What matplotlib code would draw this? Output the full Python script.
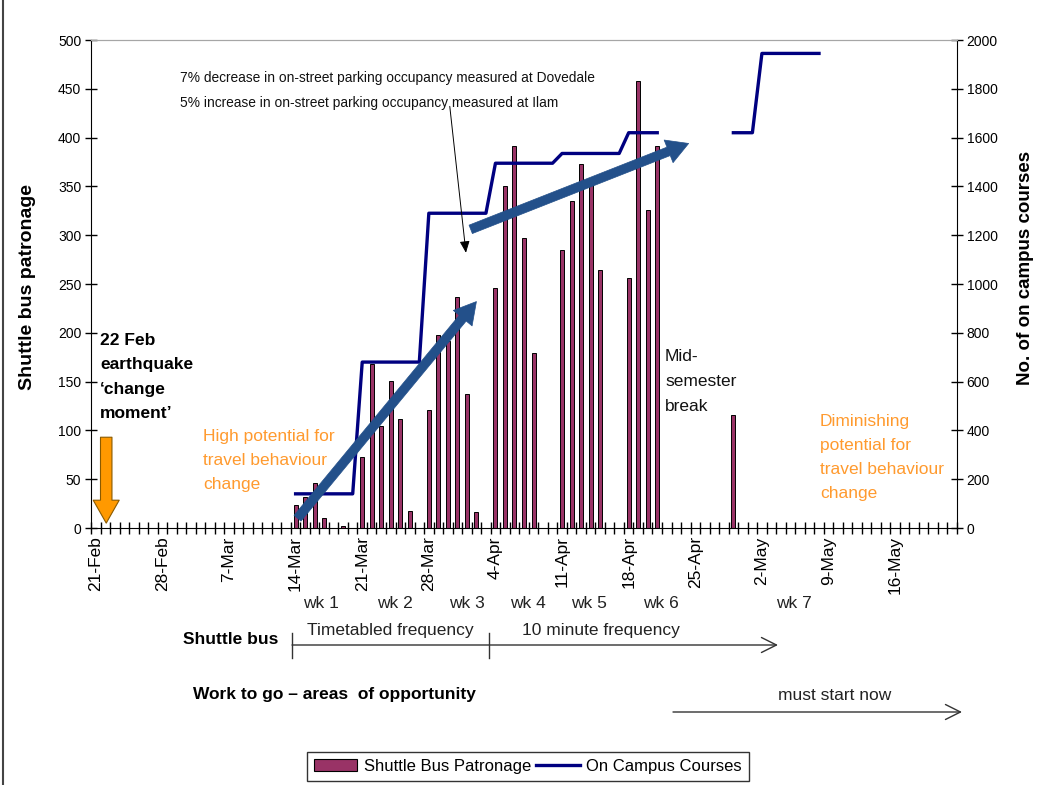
import matplotlib
matplotlib.use('Agg')
import matplotlib.pyplot as plt
import numpy as np
import pandas as pd
from matplotlib.patches import Patch
from matplotlib.lines import Line2D

plt.rcParams['font.family'] = ['Liberation Sans', 'DejaVu Sans']

# ---------------- data ----------------
# daily category axis (21-Feb-2011 .. 22-May-2011)
day_range = pd.date_range('2011-02-21', '2011-05-22', freq='D')
categories = [f"{d.day}-{d.strftime('%b')}" for d in day_range]
tick_labels = ['21-Feb', '28-Feb', '7-Mar', '14-Mar', '21-Mar', '28-Mar', '4-Apr',
               '11-Apr', '18-Apr', '25-Apr', '2-May', '9-May', '16-May']

bus_dates = ['14-Mar', '15-Mar', '16-Mar', '17-Mar', '19-Mar',
             '21-Mar', '22-Mar', '23-Mar', '24-Mar', '25-Mar', '26-Mar',
             '28-Mar', '29-Mar', '30-Mar', '31-Mar', '1-Apr', '2-Apr',
             '4-Apr', '5-Apr', '6-Apr', '7-Apr', '8-Apr',
             '11-Apr', '12-Apr', '13-Apr', '14-Apr', '15-Apr',
             '18-Apr', '19-Apr', '20-Apr', '21-Apr',
             '29-Apr']
bus_patronage = [24, 32, 46, 10, 2,
                 73, 168, 105, 151, 112, 17,
                 121, 198, 192, 237, 137, 16,
                 246, 350, 391, 297, 179,
                 285, 335, 373, 353, 264,
                 256, 458, 326, 391,
                 116]

course_dates = ['14-Mar', '20-Mar', '21-Mar', '27-Mar', '28-Mar', '3-Apr', '4-Apr',
                '10-Apr', '11-Apr', '17-Apr', '18-Apr', '21-Apr', None,
                '29-Apr', '1-May', '2-May', '8-May']
course_values = [140, 140, 680, 680, 1290, 1290, 1495,
                 1495, 1535, 1535, 1620, 1620, None,
                 1620, 1620, 1945, 1945]

# ---------------- figure ----------------
W, H = 1037, 785
fig = plt.figure(figsize=(W / 100, H / 100), dpi=100)
fig.patch.set_facecolor('white')

def fx(x):
    return x / W

def fy(y):
    return 1 - y / H

ax = fig.add_axes([fx(91), fy(528), (957 - 91) / W, (528 - 40) / H])
idx = {c: i for i, c in enumerate(categories)}

bx = [idx[d] for d in bus_dates]
ax.bar(bx, bus_patronage, width=0.42, color='#993366', edgecolor='black',
       linewidth=0.7, zorder=2)
ax.set_xlim(-0.5, len(categories) - 0.5)
ax.set_ylim(0, 500)
ax.set_yticks(np.arange(0, 501, 50))
ax.tick_params(axis='y', direction='inout', length=8, width=1, labelsize=10, pad=3,
               colors='black')
ax.set_xticks([idx[t] for t in tick_labels])
ax.set_xticklabels(tick_labels, rotation=90, fontsize=12.5)
ax.tick_params(axis='x', which='major', length=0, pad=6)
ax.set_xticks(np.arange(-0.5, len(categories), 1), minor=True)
ax.tick_params(axis='x', which='minor', direction='inout', length=8, width=1)
ax.set_ylabel('Shuttle bus patronage', fontsize=14, fontweight='bold')
ax.yaxis.set_label_coords((36 - 91) / 866, (528 - 287) / 488)
ax.spines['top'].set_color('#a6a6a6')
ax.spines['right'].set_visible(False)

ax2 = ax.twinx()
cx = [idx[d] if d is not None else np.nan for d in course_dates]
cv = [v if v is not None else np.nan for v in course_values]
ax2.plot(cx, cv, color='#000080', lw=2.4, zorder=3)
ax2.set_ylim(0, 2000)
ax2.set_yticks(np.arange(0, 2001, 200))
ax2.tick_params(axis='y', direction='inout', length=8, width=1, labelsize=10, pad=3)
ax2.set_ylabel('No. of on campus courses', fontsize=13.5, fontweight='bold',
               rotation=90)
ax2.yaxis.set_label_coords((1017 - 91) / 866, (528 - 268) / 488)
ax2.spines['top'].set_color('#a6a6a6')
ax2.spines['left'].set_visible(False)
ax2.spines['bottom'].set_visible(False)

# ---------------- annotations inside the plot ----------------
blue = '#23508A'
arrow_kw = dict(arrowstyle='simple,head_length=1.55,head_width=1.75,tail_width=0.65',
                fc=blue, ec=blue, lw=0.5, shrinkA=0, shrinkB=0, mutation_scale=10)
ax2.annotate('', xy=(40.0, 232), xytext=(21.2, 10), xycoords=ax.transData,
             textcoords=ax.transData, arrowprops=arrow_kw, zorder=5)
ax2.annotate('', xy=(62.3, 394), xytext=(39.4, 306), xycoords=ax.transData,
             textcoords=ax.transData, arrowprops=arrow_kw, zorder=5)

ax2.annotate('', xy=(1.1, 5), xytext=(1.1, 93), xycoords=ax.transData,
             textcoords=ax.transData,
             arrowprops=dict(arrowstyle='simple,head_length=1.5,head_width=1.7,tail_width=0.75',
                             fc='#FF9900', ec='#8a5a00', lw=0.8, shrinkA=0, shrinkB=0,
                             mutation_scale=11), zorder=5)

ax2.annotate('', xy=(38.9, 282), xytext=(37.2, 432), xycoords=ax.transData,
             textcoords=ax.transData,
             arrowprops=dict(arrowstyle='-|>,head_length=0.7,head_width=0.3',
                             color='black', lw=0.7, shrinkA=0, shrinkB=0), zorder=5)

fig.text(fx(180), fy(78), '7% decrease in on-street parking occupancy measured at Dovedale',
         fontsize=9.9, va='center', ha='left', color='#111')
fig.text(fx(180), fy(103), '5% increase in on-street parking occupancy measured at Ilam',
         fontsize=9.9, va='center', ha='left', color='#111')

fig.text(fx(100), fy(333), '22 Feb\nearthquake\n\u2018change\nmoment\u2019',
         fontsize=12.5, fontweight='bold', va='top', ha='left', linespacing=1.78)

orange = '#FF9A2E'
fig.text(fx(203), fy(429), 'High potential for\ntravel behaviour\nchange',
         fontsize=12.5, color=orange, va='top', ha='left', linespacing=1.75)
fig.text(fx(665), fy(349), 'Mid-\nsemester\nbreak', fontsize=12.5, color='#111',
         va='top', ha='left', linespacing=1.83)
fig.text(fx(820), fy(414), 'Diminishing\npotential for\ntravel behaviour\nchange',
         fontsize=12.5, color=orange, va='top', ha='left', linespacing=1.75)

# ---------------- below-axis text ----------------
for lbl, xc in zip(['wk 1', 'wk 2', 'wk 3', 'wk 4', 'wk 5', 'wk 6', 'wk 7'],
                   [321, 395, 467, 528, 589, 661, 794]):
    fig.text(fx(xc), fy(604), lbl, fontsize=12.5, ha='center', va='center', color='#222')

fig.text(fx(183), fy(640), 'Shuttle bus', fontsize=12.5, fontweight='bold',
         ha='left', va='center')
fig.text(fx(390), fy(630), 'Timetabled frequency', fontsize=12.5, ha='center',
         va='center', color='#222')
fig.text(fx(601), fy(630), '10 minute frequency', fontsize=12.5, ha='center',
         va='center', color='#222')
fig.add_artist(Line2D([fx(292), fx(292)], [fy(633), fy(658)], transform=fig.transFigure,
                      color='#333', lw=1))
fig.add_artist(Line2D([fx(489), fx(489)], [fy(633), fy(658)], transform=fig.transFigure,
                      color='#333', lw=1))
fig.add_artist(matplotlib.patches.FancyArrowPatch(
    (fx(292), fy(645)), (fx(778), fy(645)), transform=fig.transFigure,
    arrowstyle='->,head_length=0.9,head_width=0.45', color='#333', lw=1,
    mutation_scale=12, shrinkA=0, shrinkB=0))

fig.text(fx(193), fy(694), 'Work to go \u2013 areas  of opportunity', fontsize=12.5,
         fontweight='bold', ha='left', va='center')
fig.text(fx(835), fy(695), 'must start now', fontsize=12.5, ha='center', va='center',
         color='#222')
fig.add_artist(matplotlib.patches.FancyArrowPatch(
    (fx(673), fy(712)), (fx(962), fy(712)), transform=fig.transFigure,
    arrowstyle='->,head_length=0.9,head_width=0.45', color='#333', lw=1,
    mutation_scale=12, shrinkA=0, shrinkB=0))

# ---------------- legend ----------------
handles = [Patch(facecolor='#993366', edgecolor='black', linewidth=0.8),
           Line2D([], [], color='#000080', lw=2.4)]
leg = fig.legend(handles, ['Shuttle Bus Patronage', 'On Campus Courses'],
                 loc='upper center', bbox_to_anchor=(fx(528), fy(752)), ncol=2,
                 frameon=True, fancybox=False, edgecolor='black', fontsize=12,
                 handlelength=2.6, handleheight=0.8, handletextpad=0.4,
                 columnspacing=0.3, borderpad=0.4, borderaxespad=0)
leg.get_frame().set_linewidth(1)

# slide border
fig.add_artist(Line2D([fx(3), fx(3)], [0, 1], transform=fig.transFigure,
                      color='#444', lw=1.5))

fig.savefig('out.png', dpi=100)
